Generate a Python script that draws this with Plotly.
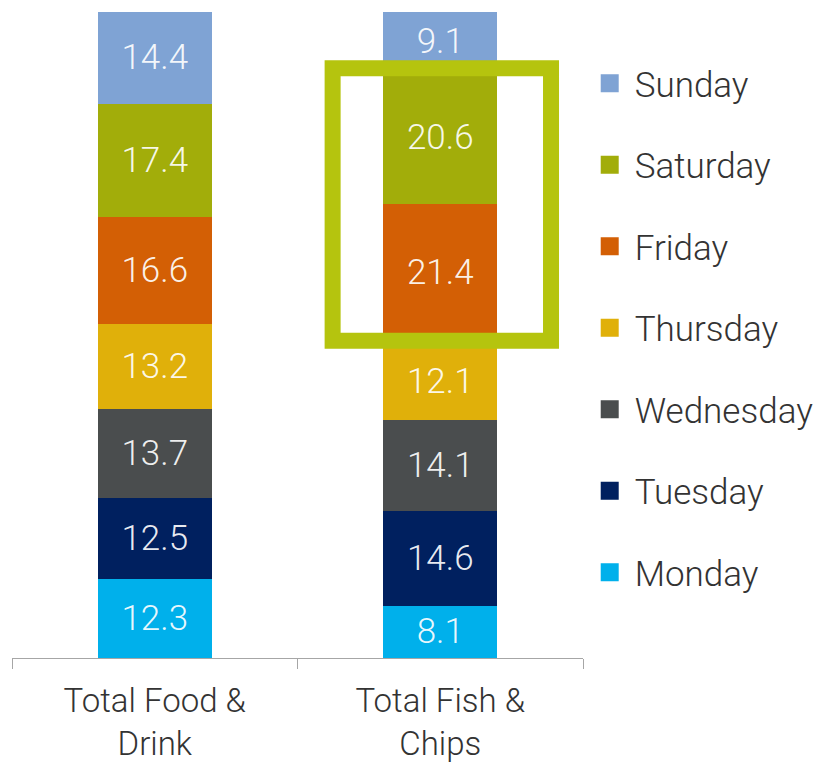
import plotly.graph_objects as go

categories = ["Total Food &<br>Drink", "Total Fish &<br>Chips"]
days = ["Monday", "Tuesday", "Wednesday", "Thursday", "Friday", "Saturday", "Sunday"]
monday = [12.3, 8.1]
tuesday = [12.5, 14.6]
wednesday = [13.7, 14.1]
thursday = [13.2, 12.1]
friday = [16.6, 21.4]
saturday = [17.4, 20.6]
sunday = [14.4, 9.1]
series = [monday, tuesday, wednesday, thursday, friday, saturday, sunday]
colors = ["#00B0EB", "#00205F", "#4A4D4E", "#E0B00A", "#D35F05", "#A2AD0A", "#7FA3D4"]

FONT = "Roboto Light, Roboto"
fig = go.Figure()
for i, (name, vals, col) in enumerate(zip(days, series, colors)):
    fig.add_trace(go.Bar(
        x=categories, y=vals, name=name, marker=dict(color=col, line=dict(width=0)),
        texttemplate="%{y:.1f}", textposition="inside", insidetextanchor="middle",
        textfont=dict(family=FONT, size=35, color="rgba(255,255,255,0.92)", weight=300),
        width=0.4, showlegend=False, legendgroup=name,
    ))
    fig.add_trace(go.Scatter(
        x=[None], y=[None], mode="markers", name=name, legendgroup=name,
        legendrank=100 - i,
        marker=dict(symbol="square", size=16, color=col, line=dict(color=col, width=2)),
        showlegend=True,
    ))

# highlight box around Friday/Saturday of second bar
fig.add_shape(type="rect", xref="x", yref="y", x0=0.623, x1=1.388, y0=49.1, y1=91.3,
              line=dict(color="#B5C40E", width=16), fillcolor="rgba(0,0,0,0)", layer="above")

fig.update_layout(
    barmode="stack",
    width=827, height=764,
    margin=dict(l=12, r=244, t=12, b=106, autoexpand=False),
    plot_bgcolor="white", paper_bgcolor="white",
    font=dict(family=FONT, color="#333333", weight=300),
    legend=dict(
        x=1.003, y=0.935, xanchor="left", yanchor="top", xref="paper",
        traceorder="grouped", tracegroupgap=33, itemwidth=40,
        font=dict(family=FONT, size=35, color="#333333", weight=300),
        itemclick=False, bgcolor="rgba(0,0,0,0)",
    ),
    xaxis=dict(
        range=[-0.5, 1.5], showline=True, linecolor="#A6A6A6", linewidth=1,
        ticks="outside", tickson="boundaries", ticklen=10, tickcolor="#A6A6A6",
        ticklabelstandoff=13, automargin=False,
        tickfont=dict(family=FONT, size=33, color="#333333", weight=300),
        showgrid=False, zeroline=False,
    ),
    yaxis=dict(range=[0, 100], visible=False, showgrid=False, zeroline=False),
    bargap=0.6,
)

fig.write_html("out.html")
